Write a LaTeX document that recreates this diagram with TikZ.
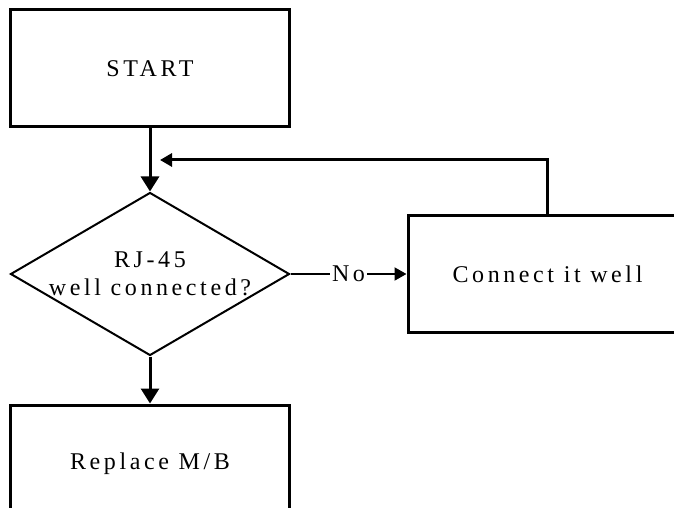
\documentclass[tikz,border=0pt]{standalone}
\usepackage{fontspec}
\setmainfont{Liberation Serif}[LetterSpace=15]
\usepackage{tikz}
\usetikzlibrary{arrows.meta,positioning,shapes.geometric,calc}

\begin{document}
\begin{tikzpicture}[
  font=\fontsize{12}{14}\selectfont,
  box/.style={draw, line width=1.5pt, align=center, minimum width=139.5pt, minimum height=58.5pt, inner sep=0pt},
  decision/.style={draw, diamond, line width=1pt, minimum width=139.5pt, minimum height=81.5pt, inner sep=0pt},
  arrow/.style={-{Triangle[length=7.5pt, width=9pt]}, line width=1.5pt},
  thinarrow/.style={-{Triangle[length=6pt, width=6.5pt]}, line width=1pt}
]
\useasboundingbox (-75pt,34.25pt) rectangle (262pt,-219.75pt);
\node[box] (start) at (0,0) {START};
\node[decision, below=31.5pt of start,
  label={[align=center]center:RJ-45\\well connected?}] (check) {};
\node[box, right=58pt of check] (connect) {Connect it well};
\node[box, below=23.5pt of check] (replace) {Replace M/B};
\coordinate (join) at ($(start.south)!0.5!(check.north)$);
\draw[arrow] (start) -- (check);
\draw[thinarrow] (check) -- node[fill=white, inner sep=1pt] {No} (connect);
\draw[line width=1.5pt] (connect.north) |- ([xshift=15pt]join);
\draw[thinarrow, line width=1.5pt] ([xshift=15pt]join) -- ([xshift=5pt]join);
\draw[arrow] (check) -- (replace);
\end{tikzpicture}
\end{document}
